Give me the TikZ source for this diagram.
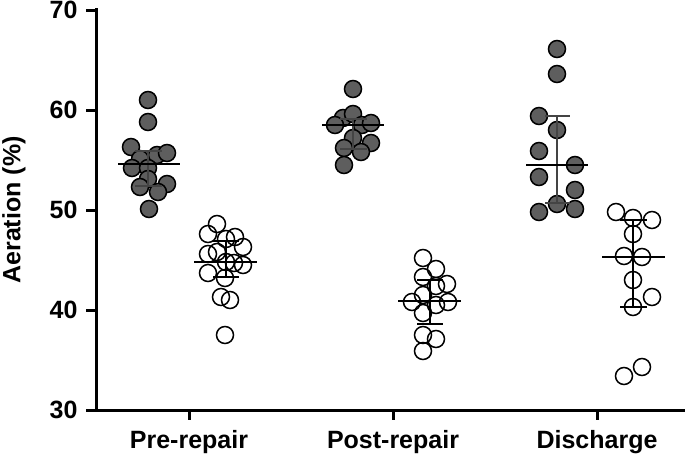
\documentclass[tikz,border=0pt]{standalone}
\usepackage{fontspec}
\setmainfont{Liberation Sans}
\begin{document}
\begin{tikzpicture}[x=1pt,y=-1pt,
  fd/.style={circle,draw=black,fill=fillg,line width=1.5pt,minimum size=17pt,inner sep=0pt},
  od/.style={circle,draw=black,fill=none,line width=1.5pt,minimum size=17pt,inner sep=0pt},
  axis/.style={line width=3pt},
  meanl/.style={line width=2.8pt},
  errf/.style={line width=2.6pt,draw=errg},
  erro/.style={line width=2.6pt,draw=black},
  lab/.style={font=\bfseries\fontsize{25}{25}\selectfont}]
\definecolor{fillg}{HTML}{5E5E5E}
\definecolor{errg}{HTML}{444444}
\useasboundingbox (0,0) rectangle (685,461);
% axes
\draw[axis] (96,8) -- (96,410) -- (685,410);
\foreach \v/\y in {70/10,60/110,50/210,40/310,30/410}{
  \draw[axis] (86,\y) -- (96,\y);
  \node[lab,anchor=east] (t\v) at (81,\y) {\v};
}
\foreach \x/\n/\t in {189/a/Pre-repair,393/b/Post-repair,597/c/Discharge}{
  \draw[axis] (\x,410) -- (\x,420);
  \node[lab] (x\n) at (\x,442) {\t};
}
\node[lab,rotate=90] (yl) at (14,210) {Aeration (\%)};
% Pre filled
\foreach \p in {(148,100),(148,122),(131,147),(140,159),(157,155),(167,153),(132,168),(148,168),(148,179),(167,184),(140,187),(158,192),(149,209)}
  \node[fd] at \p {};
\draw[errf] (148,151) -- (148,186) (135,151) -- (162,151) (135,186) -- (162,186);
\draw[meanl] (118,164) -- (180,164);
% Pre open
\foreach \p in {(217,224),(208,234),(226,239),(235,237),(243,247),(208,254),(217,252),(226,262),(234,263),(243,265),(208,273),(225,278),(221,297),(230,300),(225,335)}
  \node[od] at \p {};
\draw[erro] (226,241) -- (226,277) (213,241) -- (239,241) (213,277) -- (239,277);
\draw[meanl] (194,262) -- (257,262);
% Post filled
\foreach \p in {(353,89),(343,118),(353,114),(335,125),(362,125),(371,123),(353,138),(371,143),(344,148),(361,152),(344,165)}
  \node[fd] at \p {};
\draw[errf] (353,119) -- (353,149) (340,119) -- (367,119) (340,149) -- (367,149);
\draw[meanl] (322,125) -- (384,125);
% Post open
\foreach \p in {(423,258),(436,269),(423,277),(447,284),(436,286),(423,295),(412,302),(436,305),(448,302),(423,313),(423,335),(436,339),(423,351)}
  \node[od] at \p {};
\draw[erro] (430,280) -- (430,324) (417,280) -- (443,280) (417,324) -- (443,324);
\draw[meanl] (398,301) -- (461,301);
% Discharge filled
\foreach \p in {(557,49),(557,74),(539,116),(557,130),(539,151),(575,165),(539,177),(575,190),(557,204),(539,212),(575,209)}
  \node[fd] at \p {};
\draw[errf] (557,116) -- (557,203) (545,116) -- (570,116) (545,203) -- (570,203);
\draw[meanl] (526,165) -- (588,165);
% Discharge open
\foreach \p in {(616,212),(633,218),(652,220),(633,234),(624,256),(642,257),(633,280),(652,297),(633,307),(624,376),(642,367)}
  \node[od] at \p {};
\draw[erro] (633,220) -- (633,307) (620,220) -- (647,220) (620,307) -- (647,307);
\draw[meanl] (602,257) -- (665,257);
\end{tikzpicture}
\end{document}
